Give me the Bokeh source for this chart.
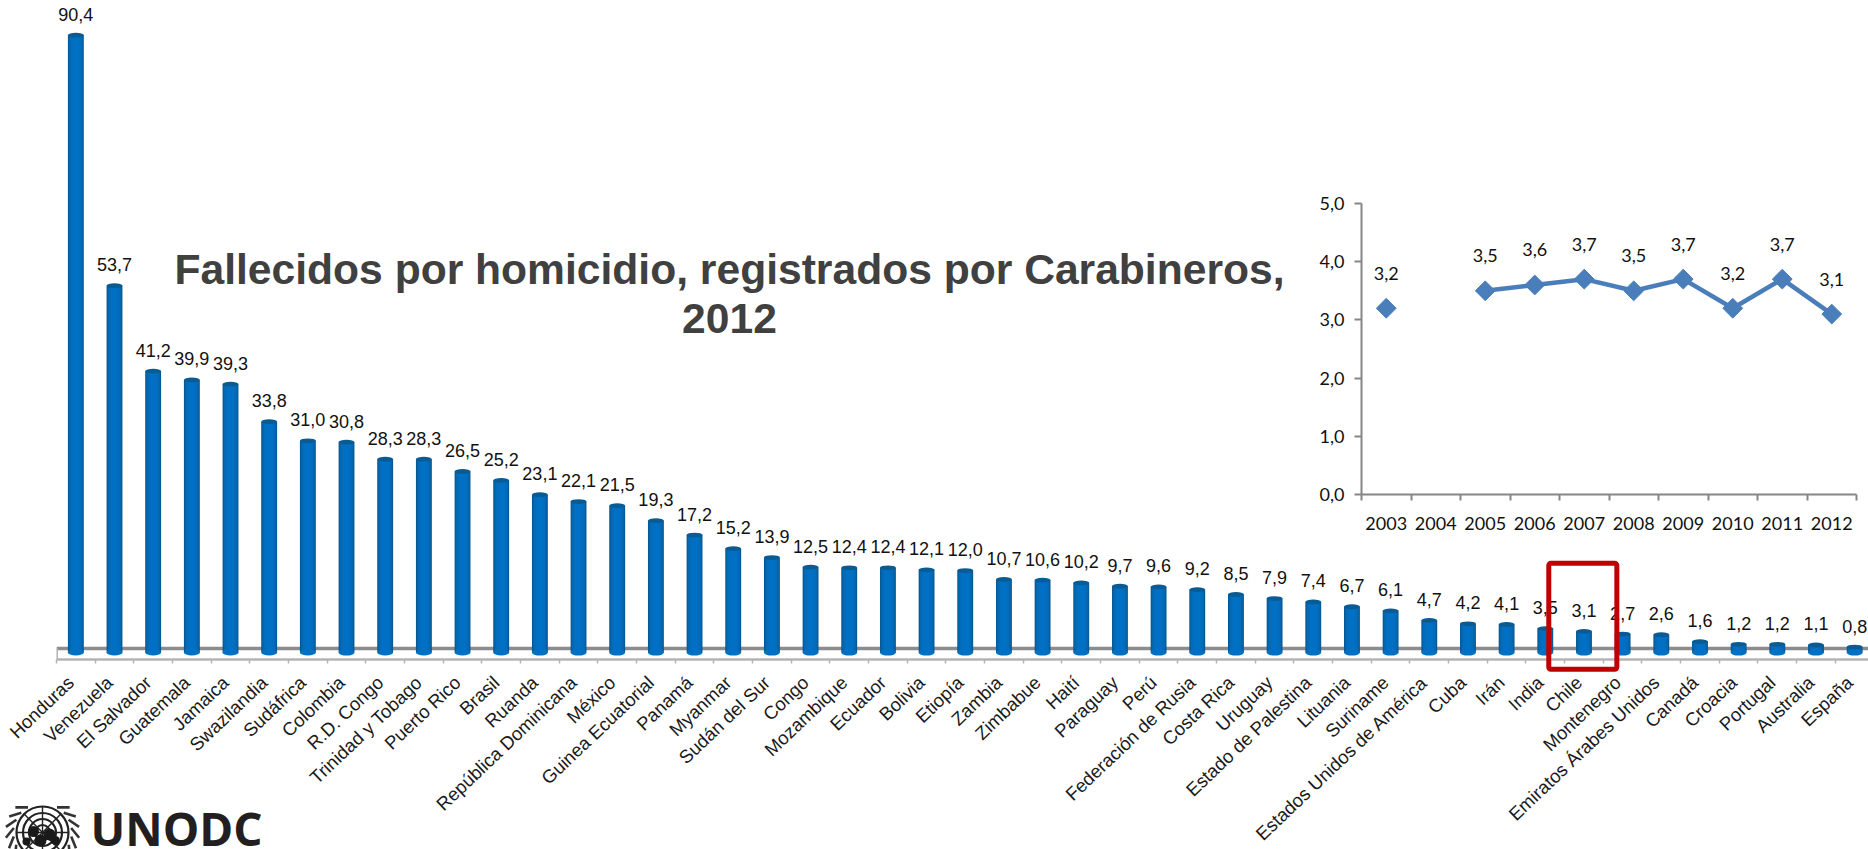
import math
from bokeh.plotting import figure
from bokeh.layouts import column
from bokeh.embed import file_html
from bokeh.resources import INLINE
from bokeh.models import ColumnDataSource, Range1d, FixedTicker, Label, BoxAnnotation
from bokeh.core.properties import value

countries = ["Honduras","Venezuela","El Salvador","Guatemala","Jamaica","Swazilandia","Sudáfrica","Colombia",
 "R.D. Congo","Trinidad y Tobago","Puerto Rico","Brasil","Ruanda","República Dominicana","México",
 "Guinea Ecuatorial","Panamá","Myanmar","Sudán del Sur","Congo","Mozambique","Ecuador","Bolivia","Etiopía",
 "Zambia","Zimbabue","Haití","Paraguay","Perú","Federación de Rusia","Costa Rica","Uruguay",
 "Estado de Palestina","Lituania","Suriname","Estados Unidos de América","Cuba","Irán","India","Chile",
 "Montenegro","Emiratos Árabes Unidos","Canadá","Croacia","Portugal","Australia","España"]
rates = [90.4,53.7,41.2,39.9,39.3,33.8,31.0,30.8,28.3,28.3,26.5,25.2,23.1,22.1,21.5,19.3,17.2,15.2,13.9,12.5,
 12.4,12.4,12.1,12.0,10.7,10.6,10.2,9.7,9.6,9.2,8.5,7.9,7.4,6.7,6.1,4.7,4.2,4.1,3.5,3.1,2.7,2.6,1.6,1.2,1.2,1.1,0.8]
years = ["2003","2004","2005","2006","2007","2008","2009","2010","2011","2012"]
chile = [3.2,None,3.5,3.6,3.7,3.5,3.7,3.2,3.7,3.1]
title_lines = ["Fallecidos por homicidio, registrados por Carabineros,", "2012"]

SANS = "Liberation Sans"
PAGE_W, PAGE_H = 1868, 849
STEP, UNIT = 38.67, 6.83
FL, FR, FT, FB = 56, 1876, 0, 659       # plot frame in page pixels
FRAME_SHRINK = 4                        # the browser gives the wide frame this many pixels less
ZERO = 652                              # page y of value 0
P_OUT_H = 853                           # real outer height of the main figure
OFF = 60                                # left gap Bokeh keeps before a fixed-size frame

def comma(v):
    return f"{v:.1f}".replace(".", ",")

xs = list(range(len(rates)))
src = ColumnDataSource(dict(x=xs, top=rates, label=[comma(v) for v in rates]))
x0_data = -0.5

p = figure(width=FR - FL + OFF, height=PAGE_H, frame_width=FR - FL, frame_height=FB - FT,
           output_backend="svg", toolbar_location=None,
           x_range=Range1d(x0_data, x0_data + (FR - FL - FRAME_SHRINK) / STEP),
           y_range=Range1d(-(FB - ZERO) / UNIT, (ZERO - FT) / UNIT),
           y_axis_location=None,
           min_border_left=FL, min_border_right=0, min_border_top=FT, min_border_bottom=PAGE_H - FB,
           outline_line_color=None, background_fill_color=None, border_fill_color="white",
           margin=(0, 0, 0, FL - OFF))
p.grid.visible = False

floor = -(FB - ZERO) / UNIT
label_ticks = [round(i - 0.13, 2) for i in xs]
ax = p.xaxis[0]
ax.ticker = FixedTicker(ticks=label_ticks, minor_ticks=[i - 0.5 for i in range(len(rates) + 1)])
ax.major_label_overrides = {t: c for t, c in zip(label_ticks, countries)}
ax.major_label_orientation = 0.76
ax.major_label_text_font = SANS
ax.major_label_text_font_size = "18.5px"
ax.major_label_text_color = "#1a1a1a"
ax.major_label_standoff = 16
ax.axis_line_color = "#b4b4b4"
ax.axis_line_width = 2.5
ax.major_tick_line_color = None
ax.major_tick_in = 0
ax.major_tick_out = 0
ax.minor_tick_line_color = "#b4b4b4"
ax.minor_tick_line_width = 1.5
ax.minor_tick_in = 0
ax.minor_tick_out = 4

# 3-D floor: back edge and left side
back = (ZERO - 648) / UNIT
p.segment(x0=[-0.5], y0=[back], x1=[48], y1=[back], line_color="#8c8c8c", line_width=3.5)
p.segment(x0=[-0.5], y0=[back], x1=[-0.5], y1=[floor], line_color="#b4b4b4", line_width=3)

# cylinders: layered strips give the shading of the original
for width, colour in [(0.41, "#06558f"), (0.38, "#075f9f"), (0.34, "#0666ae"), (0.27, "#046dbb"), (0.17, "#0070c4")]:
    p.vbar(x="x", top="top", bottom=0, width=width, source=src, fill_color=colour, line_color=None)
p.ellipse(x="x", y=0, width=0.41, height=0.88, source=src, fill_color="#0070c4", line_color=None)
p.ellipse(x="x", y="top", width=0.41, height=0.7, source=src, fill_color="#0b5b93", line_color=None)

p.text(x="x", y="top", text="label", source=src, text_align="center", text_baseline="alphabetic", y_offset=-21,
       text_font=value(SANS), text_font_size="18px", text_color="#111111")

for line, ypx in zip(title_lines, [268, 318]):
    p.add_layout(Label(x=729 - FL, y=FB - ypx, x_units="screen", y_units="screen", text=line,
                       text_align="center", text_baseline="middle", text_font=SANS, text_font_style="bold",
                       text_font_size="42.6px", text_color="#404040"))

# inset
INL, INR, INT, INB = 60, 12, 14, 50
IX0, IX1, IY0, IY1 = 1361, 1856, 202, 493
q_h = (IY1 - IY0) + INT + INB
q = figure(frame_width=IX1 - IX0, frame_height=IY1 - IY0, output_backend="svg", toolbar_location=None,
           x_range=Range1d(-0.5, 9.5), y_range=Range1d(0, 5),
           min_border_left=INL, min_border_right=INR, min_border_top=INT, min_border_bottom=INB,
           outline_line_color=None, background_fill_color=None, border_fill_color=None,
           margin=(IY0 - INT - P_OUT_H, 0, 0, IX0 - INL))
q.grid.visible = False
yrx = list(range(len(years)))
qa = q.xaxis[0]
qa.ticker = FixedTicker(ticks=yrx, minor_ticks=[i - 0.5 for i in range(len(years) + 1)])
qa.major_label_overrides = {i: y for i, y in enumerate(years)}
qa.major_tick_line_color = None
qa.major_tick_in = 0
qa.major_tick_out = 0
qa.minor_tick_line_color = "#868686"
qa.minor_tick_line_width = 2
qa.minor_tick_in = 0
qa.minor_tick_out = 6
qa.major_label_standoff = 16
qy = q.yaxis[0]
qy.ticker = FixedTicker(ticks=[0, 1, 2, 3, 4, 5], minor_ticks=[])
qy.major_label_overrides = {i: f"{i},0" for i in range(6)}
qy.major_tick_line_color = "#868686"
qy.major_tick_line_width = 2
qy.major_tick_in = 0
qy.major_tick_out = 7
qy.major_label_standoff = 10
for a in (qa, qy):
    a.axis_line_color = "#868686"
    a.axis_line_width = 2
    a.major_label_text_font = "Lato"
    a.major_label_text_font_size = "18px"
    a.major_label_text_color = "#111111"

qs = ColumnDataSource(dict(x=yrx, y=[float("nan") if v is None else v for v in chile],
                           label=["" if v is None else comma(v) for v in chile]))
q.line(x="x", y="y", source=qs, line_color="#4a7ebb", line_width=4.5)
q.scatter(x="x", y="y", source=qs, marker="square", angle=0.785, size=14, fill_color="#4a7ebb", line_color="#4a7ebb")
q.text(x="x", y="y", text="label", source=qs, text_align="center", text_baseline="alphabetic", y_offset=-35,
       text_font=value("Lato"), text_font_size="18px", text_color="#111111")

# highlight around Chile: own transparent canvas, since it reaches past the plot frame
HX0, HX1, HY0, HY1 = 1530, 1634, 550, 680
i_chile = countries.index("Chile")
def to_x(px): return x0_data + (px - FL) / STEP
def to_y(py): return (ZERO - py) / UNIT
h_w = HX1 - HX0 + OFF
h = figure(frame_width=h_w, frame_height=HY1 - HY0, output_backend="svg", toolbar_location=None,
           x_range=Range1d(to_x(HX0), to_x(HX0 + h_w)), y_range=Range1d(to_y(HY1), to_y(HY0)),
           x_axis_location=None, y_axis_location=None,
           min_border_left=0, min_border_right=0, min_border_top=0, min_border_bottom=0,
           outline_line_color=None, background_fill_color=None, border_fill_color=None,
           margin=(HY0 - (IY0 - INT + q_h), 0, 0, HX0 - OFF))
h.grid.visible = False
h.add_layout(BoxAnnotation(left=i_chile - 0.91, right=i_chile + 0.85, top=13.2, bottom=-2.3, fill_color=None, fill_alpha=0,
                           line_color="#c00000", line_alpha=1, line_width=5, border_radius=2))

# UNODC mark, its own small canvas over the bottom-left corner
LOGO_TOP = 784
g = figure(frame_width=400, frame_height=70, output_backend="svg", toolbar_location=None,
           x_range=Range1d(0, 400), y_range=Range1d(70, 0),
           x_axis_location=None, y_axis_location=None,
           min_border_left=0, min_border_right=0, min_border_top=0, min_border_bottom=0,
           outline_line_color=None, background_fill_color=None, border_fill_color=None,
           margin=(LOGO_TOP - HY1, 0, 0, -OFF))
g.grid.visible = False
cx, cy = 42, 47
g.scatter(x=[cx] * 4, y=[cy] * 4, size=[52, 39, 27, 15], marker="circle", fill_color=None,
          line_color="#222222", line_width=2.2)
for k in range(8):
    a = k * math.pi / 4
    g.segment(x0=[cx], y0=[cy], x1=[cx + 26 * math.cos(a)], y1=[cy + 26 * math.sin(a)],
              line_color="#222222", line_width=1.4)
g.scatter(x=[cx - 9, cx - 2, cx + 7, cx + 13, cx - 16], y=[cy - 1, cy + 8, cy + 2, cy + 8, cy + 9],
          size=[11, 12, 12, 9, 8], marker="circle", fill_color="#1a1a1a", line_color=None)
for side in (-1, 1):
    for k in range(10):
        a = math.radians(-60 + k * 17)
        a2 = a + 0.3
        g.segment(x0=[cx + side * 29 * math.cos(a)], y0=[cy + 29 * math.sin(a)],
                  x1=[cx + side * 37 * math.cos(a2)], y1=[cy + 37 * math.sin(a2)],
                  line_color="#333333", line_width=2.6)
g.text(x=[90], y=[42], text=["UNODC"], text_align="left", text_baseline="alphabetic",
       text_font=value("Open Sans"), text_font_style="bold", text_font_size="46px", text_color="#231f20")

open("out.html", "w").write(file_html(column(p, q, h, g, spacing=0), INLINE))
